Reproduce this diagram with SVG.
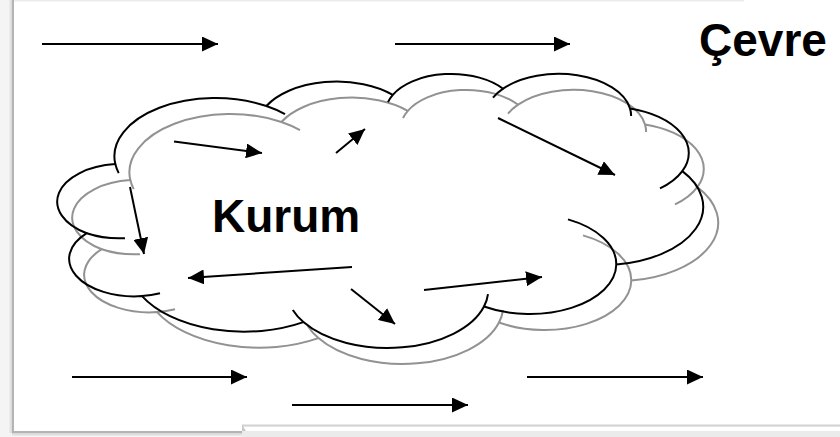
<svg xmlns="http://www.w3.org/2000/svg" width="840" height="437" viewBox="0 0 840 437">
  <defs>
    <style>
      .cloud { fill: none; stroke-linejoin: round; }
      .black { stroke: #000; stroke-width: 2; }
      .grey { stroke: #929292; stroke-width: 2; }
      .conn line { stroke: #000; stroke-width: 2; marker-end: url(#ah); }
      .lbl { font-family: "Liberation Sans", Arial, sans-serif; font-weight: bold; font-size: 46px; fill: #000; }
    </style>
    <marker id="ah" markerUnits="userSpaceOnUse" viewBox="0 0 16 15" refX="16" refY="7.5" markerWidth="16" markerHeight="15" orient="auto">
      <path d="M0,0 L16,7.5 L0,15 z" fill="#000"/>
    </marker>
    <path id="cloudOutline" d="M115.3,164.1 A101,58.3 0 0 1 266.4,106 A79.7,46.1 0 0 1 392.8,94.8 A65.3,37.7 0 0 1 503.1,88.7 A72.6,41.8 0 0 1 630,108.4 A79.7,46.1 0 0 1 682.3,171.1 A101.3,58.5 0 0 1 616.3,264.6 A86.5,49.9 0 0 1 484,306.5 A101,58.4 0 0 1 303.4,322.1 A115.4,66.9 0 0 1 142,296.1 A65.2,37.5 0 0 1 86.8,233.2 A65,37.7 0 0 1 115.3,164.1 Z"/>
    <path id="cloudInner" d="M118.7,173.1 A101,58.3 0 0 1 115.3,164.1 M266.4,106 A101,58.3 0 0 1 285,114.1 M388,102.2 A65.3,37.7 0 0 1 392.8,94.8 M493,97.7 A72.6,41.8 0 0 1 503.1,88.7 M630,108.4 A72.6,41.8 0 0 1 631.1,116.1 M682.3,171.1 A79.7,46.1 0 0 1 660,188.4 M568,219.4 A86.5,49.9 0 0 1 616.3,264.6 M488,294.1 A101,58.4 0 0 1 484,306.5 M303.4,322.1 A101,58.4 0 0 1 292.8,310 M160,293.3 A65.2,37.5 0 0 1 142,296.1 M125,238.2 A65,37.7 0 0 1 86.8,233.2"/>
  </defs>

  <!-- frame -->
  <g id="frame">
    <rect x="0" y="0" width="840" height="437" fill="#f4f4f4"/>
    <rect x="14" y="0" width="826" height="426" fill="#ffffff"/>
    <rect x="14" y="0" width="730" height="1.5" fill="#ececec"/>
    <rect x="11.5" y="0" width="2.5" height="433" fill="#b4b4b4"/>
    <rect x="9.5" y="0" width="2" height="433" fill="#e2e2e2"/>
    <rect x="14" y="426" width="228" height="5" fill="#ffffff"/>
    <rect x="12" y="431" width="230" height="2.5" fill="#b4b4b4"/>
    <rect x="12" y="433.5" width="230" height="2" fill="#dedede"/>
    <rect x="242" y="424.5" width="598" height="2" fill="#d2d2d2"/>
    <rect x="244" y="427" width="596" height="4" fill="#ffffff"/>
    <rect x="242" y="431" width="598" height="6" fill="#ebebeb"/>
    <path d="M242,424.5 L246,431 L242,431 Z" fill="#c8c8c8"/>
  </g>

  <!-- cloud (Kurum) -->
  <g id="kurum">
    <g class="cloud grey" transform="translate(15,16)">
      <use href="#cloudOutline"/>
      <use href="#cloudInner"/>
    </g>
    <g class="cloud black">
      <use href="#cloudOutline"/>
      <use href="#cloudInner"/>
    </g>
    <text class="lbl" x="212" y="232">Kurum</text>
  </g>

  <!-- environment label -->
  <g id="cevre">
    <text class="lbl" x="699" y="56">Çevre</text>
  </g>

  <!-- connectors -->
  <g id="connectors" class="conn">
    <line x1="42" y1="44" x2="218" y2="44"/>
    <line x1="395" y1="44" x2="570" y2="44"/>
    <line x1="72" y1="377" x2="247" y2="377"/>
    <line x1="292" y1="405" x2="468" y2="405"/>
    <line x1="527" y1="377" x2="703" y2="377"/>
    <line x1="174" y1="141.5" x2="262" y2="153"/>
    <line x1="336" y1="153" x2="365" y2="129"/>
    <line x1="498" y1="118" x2="615" y2="175"/>
    <line x1="130" y1="187" x2="144" y2="254"/>
    <line x1="352" y1="267" x2="188" y2="278"/>
    <line x1="351" y1="289" x2="395" y2="324"/>
    <line x1="424" y1="290" x2="542" y2="277"/>
  </g>
</svg>
